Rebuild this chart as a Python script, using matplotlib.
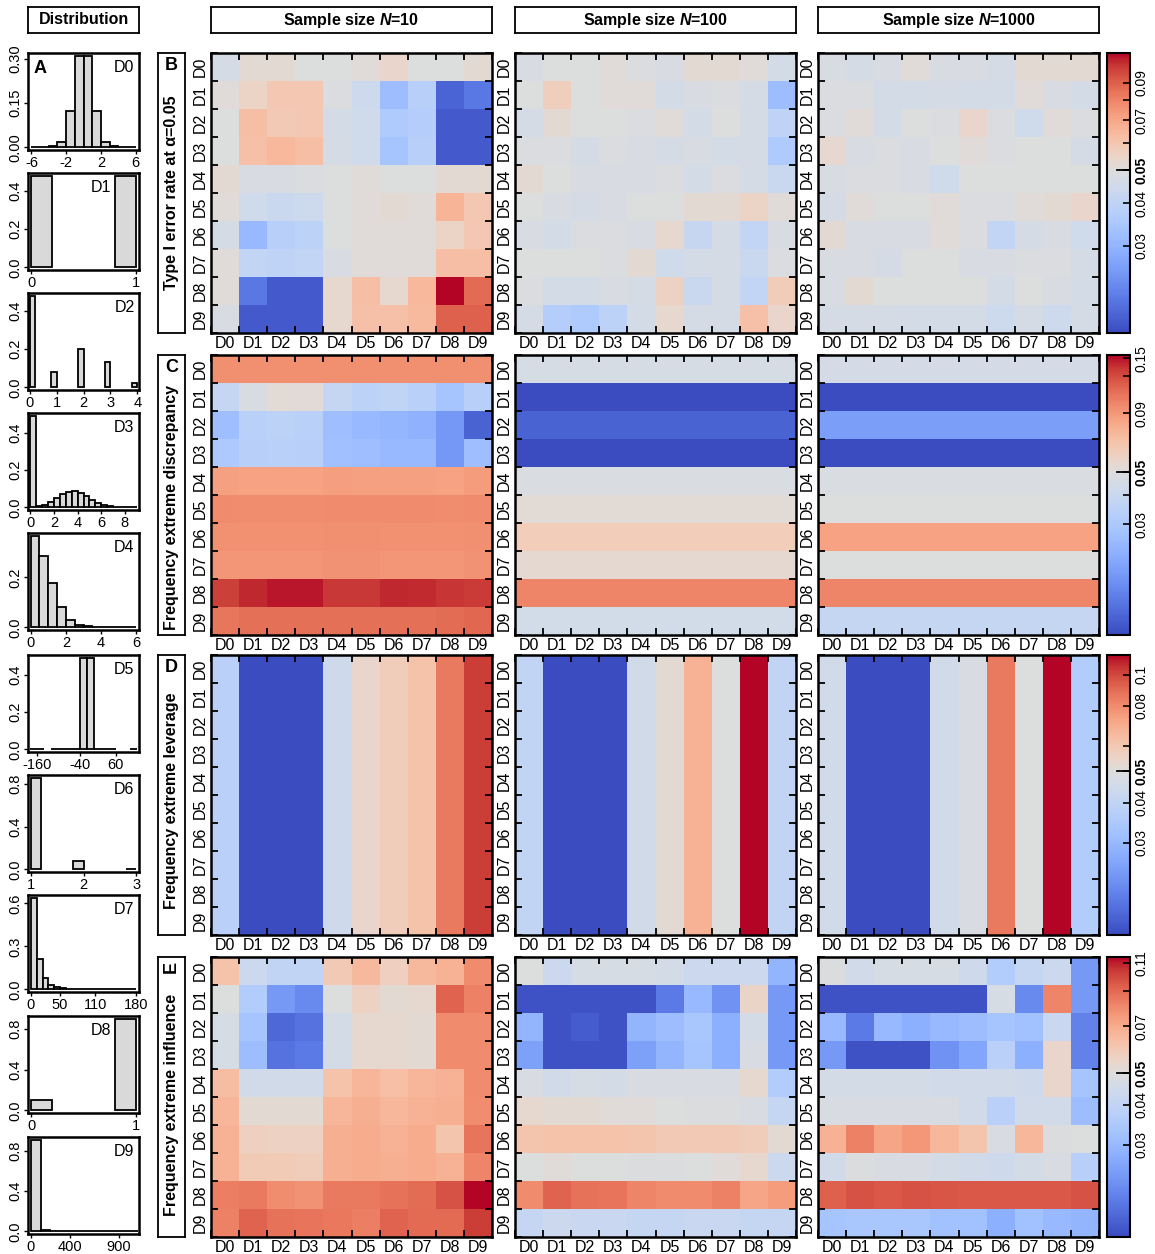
import numpy as np
import matplotlib
matplotlib.use('Agg')
import matplotlib.pyplot as plt
from matplotlib.colors import ListedColormap, LogNorm
from matplotlib.transforms import blended_transform_factory

plt.rcParams['font.family'] = ['Liberation Sans', 'DejaVu Sans']
plt.rcParams['mathtext.fontset'] = 'custom'
plt.rcParams['mathtext.it'] = 'Liberation Sans:italic:bold'
plt.rcParams['mathtext.rm'] = 'Liberation Sans:bold'
plt.rcParams['axes.unicode_minus'] = False

names = ['D0', 'D1', 'D2', 'D3', 'D4', 'D5', 'D6', 'D7', 'D8', 'D9']
sizes = ['10', '100', '1000']

# ---- distribution histograms (left edge, width, height) ----
d0_left = [-6, -5, -4, -3, -2, -1, 0, 1, 2, 3, 4, 5]
d0_h = [0, 0, 0.003, 0.017, 0.123, 0.31, 0.31, 0.123, 0.017, 0.003, 0, 0]
d1_left = [0, 0.8]
d1_h = [0.48, 0.48]
d2_left = [0, 0.8, 1.8, 2.8, 3.8]
d2_h = [0.48, 0.082, 0.2, 0.135, 0.023]
d3_left = [0, 0.5, 1, 1.5, 2, 2.5, 3, 3.5, 4, 4.5, 5, 5.5, 6, 6.5, 7, 7.5, 8, 8.5]
d3_h = [0.49, 0.005, 0.011, 0.028, 0.052, 0.072, 0.084, 0.086, 0.076, 0.058, 0.04,
        0.024, 0.012, 0.006, 0.003, 0.001, 0.001, 0.0]
d4_left = [0, 0.5, 1, 1.5, 2, 2.5, 3, 3.5, 4, 4.5, 5, 5.5]
d4_h = [0.367, 0.287, 0.176, 0.083, 0.031, 0.011, 0.004, 0.001, 0, 0, 0, 0]
d5_left = [-180, -160, -120, -100, -80, -60, -40, -20, 0, 20, 40, 100]
d5_h = [0, 0, 0, 0, 0, 0, 0.49, 0.49, 0, 0, 0, 0]
d6_left = [1, 1.8, 2.8]
d6_h = [0.86, 0.077, 0.006]
d7_left = list(range(0, 180, 10))
d7_h = [0.64, 0.21, 0.08, 0.033, 0.015, 0.007, 0.004, 0.002, 0.001,
        0.001, 0, 0, 0, 0, 0, 0, 0, 0]
d8_left = [0, 0.8]
d8_h = [0.1, 0.9]
d9_left = list(range(0, 1100, 100))
d9_h = [0.91, 0.015, 0.005, 0, 0, 0, 0, 0, 0, 0, 0]

hists = [
    (d0_left, 1, d0_h, (-6.4, 6.4), [-6, -2, 2, 6], [0, 0.15, 0.30], ['0.00', '0.15', '0.30']),
    (d1_left, 0.2, d1_h, (-0.03, 1.03), [0, 1], [0, 0.2, 0.4], ['0.0', '0.2', '0.4']),
    (d2_left, 0.2, d2_h, (-0.06, 4.06), [0, 1, 2, 3, 4], [0, 0.2, 0.4], ['0.0', '0.2', '0.4']),
    (d3_left, 0.5, d3_h, (-0.2, 9.2), [0, 2, 4, 6, 8], [0, 0.2, 0.4], ['0.0', '0.2', '0.4']),
    (d4_left, 0.5, d4_h, (-0.15, 6.15), [0, 2, 4, 6], [0, 0.2], ['0.0', '0.2']),
    (d5_left, 20, d5_h, (-186, 126), [-160, -40, 60], [0, 0.2, 0.4], ['0.0', '0.2', '0.4']),
    (d6_left, 0.2, d6_h, (0.95, 3.05), [1, 2, 3], [0, 0.4, 0.8], ['0.0', '0.4', '0.8']),
    (d7_left, 10, d7_h, (-5, 185), [0, 50, 110, 180], [0, 0.3, 0.6], ['0.0', '0.3', '0.6']),
    (d8_left, 0.2, d8_h, (-0.03, 1.03), [0, 1], [0, 0.4, 0.8], ['0.0', '0.4', '0.8']),
    (d9_left, 100, d9_h, (-30, 1110), [0, 400, 900], [0, 0.4, 0.8], ['0.0', '0.4', '0.8']),
]

# ---- heatmap values (rows = D0..D9 top to bottom, cols = D0..D9) ----
type1_n10 = [
    [0.047, 0.052, 0.052, 0.050, 0.050, 0.051, 0.054, 0.050, 0.050, 0.052],
    [0.051, 0.055, 0.060, 0.060, 0.049, 0.044, 0.032, 0.038, 0.019, 0.021],
    [0.050, 0.063, 0.059, 0.060, 0.046, 0.045, 0.036, 0.037, 0.018, 0.018],
    [0.050, 0.062, 0.065, 0.063, 0.047, 0.045, 0.034, 0.038, 0.018, 0.018],
    [0.052, 0.048, 0.048, 0.049, 0.050, 0.051, 0.050, 0.050, 0.052, 0.052],
    [0.051, 0.045, 0.043, 0.044, 0.050, 0.051, 0.052, 0.051, 0.066, 0.060],
    [0.047, 0.031, 0.038, 0.039, 0.050, 0.051, 0.051, 0.051, 0.055, 0.060],
    [0.051, 0.041, 0.040, 0.041, 0.048, 0.051, 0.051, 0.051, 0.063, 0.063],
    [0.051, 0.021, 0.018, 0.018, 0.053, 0.063, 0.053, 0.065, 0.110, 0.087],
    [0.048, 0.018, 0.018, 0.018, 0.053, 0.062, 0.062, 0.064, 0.090, 0.090],
]
type1_n100 = [
    [0.048, 0.050, 0.050, 0.051, 0.049, 0.048, 0.052, 0.052, 0.051, 0.046],
    [0.050, 0.057, 0.050, 0.051, 0.051, 0.046, 0.048, 0.049, 0.047, 0.032],
    [0.047, 0.052, 0.050, 0.050, 0.049, 0.051, 0.046, 0.050, 0.047, 0.040],
    [0.049, 0.049, 0.047, 0.049, 0.048, 0.047, 0.048, 0.046, 0.047, 0.036],
    [0.052, 0.050, 0.048, 0.048, 0.048, 0.049, 0.046, 0.049, 0.047, 0.043],
    [0.050, 0.048, 0.047, 0.048, 0.050, 0.050, 0.052, 0.052, 0.055, 0.051],
    [0.048, 0.046, 0.049, 0.049, 0.048, 0.053, 0.042, 0.047, 0.041, 0.048],
    [0.050, 0.050, 0.050, 0.049, 0.052, 0.045, 0.046, 0.047, 0.043, 0.049],
    [0.049, 0.046, 0.046, 0.048, 0.047, 0.056, 0.043, 0.047, 0.041, 0.058],
    [0.047, 0.037, 0.036, 0.039, 0.046, 0.053, 0.047, 0.047, 0.062, 0.054],
]
type1_n1000 = [
    [0.048, 0.047, 0.048, 0.051, 0.048, 0.048, 0.047, 0.052, 0.052, 0.052],
    [0.049, 0.049, 0.046, 0.046, 0.047, 0.046, 0.046, 0.051, 0.048, 0.046],
    [0.049, 0.051, 0.046, 0.050, 0.049, 0.054, 0.049, 0.045, 0.051, 0.049],
    [0.053, 0.048, 0.049, 0.048, 0.050, 0.051, 0.049, 0.050, 0.050, 0.047],
    [0.048, 0.049, 0.049, 0.048, 0.045, 0.050, 0.050, 0.050, 0.050, 0.050],
    [0.047, 0.051, 0.050, 0.050, 0.051, 0.049, 0.049, 0.051, 0.052, 0.054],
    [0.052, 0.048, 0.048, 0.048, 0.051, 0.049, 0.041, 0.047, 0.048, 0.045],
    [0.048, 0.048, 0.047, 0.050, 0.050, 0.048, 0.048, 0.049, 0.049, 0.047],
    [0.048, 0.052, 0.050, 0.050, 0.050, 0.050, 0.046, 0.050, 0.048, 0.046],
    [0.047, 0.047, 0.047, 0.046, 0.046, 0.046, 0.044, 0.047, 0.044, 0.047],
]

discr_n10 = [
    [0.095, 0.095, 0.095, 0.095, 0.095, 0.095, 0.095, 0.095, 0.095, 0.095],
    [0.038, 0.047, 0.053, 0.052, 0.038, 0.035, 0.036, 0.034, 0.028, 0.033],
    [0.026, 0.034, 0.035, 0.034, 0.026, 0.025, 0.024, 0.023, 0.018, 0.012],
    [0.030, 0.033, 0.034, 0.033, 0.027, 0.026, 0.025, 0.025, 0.018, 0.026],
    [0.086, 0.085, 0.085, 0.085, 0.087, 0.086, 0.086, 0.086, 0.085, 0.088],
    [0.097, 0.096, 0.096, 0.096, 0.097, 0.097, 0.097, 0.097, 0.096, 0.097],
    [0.094, 0.094, 0.094, 0.094, 0.095, 0.095, 0.094, 0.094, 0.094, 0.095],
    [0.092, 0.092, 0.092, 0.092, 0.093, 0.093, 0.092, 0.092, 0.092, 0.093],
    [0.135, 0.148, 0.152, 0.152, 0.140, 0.140, 0.148, 0.146, 0.142, 0.138],
    [0.108, 0.110, 0.110, 0.110, 0.110, 0.110, 0.110, 0.110, 0.112, 0.115],
]
discr_n100_rows = [0.046, 0.010, 0.012, 0.010, 0.048, 0.053, 0.062, 0.054, 0.100, 0.044]
discr_n1000_rows = [0.045, 0.010, 0.019, 0.010, 0.048, 0.050, 0.085, 0.050, 0.100, 0.038]

lever_n10_cols = [0.038, 0.0155, 0.0155, 0.0155, 0.044, 0.054, 0.058, 0.062, 0.085, 0.103]
lever_n100_cols = [0.040, 0.0155, 0.0155, 0.0155, 0.045, 0.052, 0.068, 0.050, 0.115, 0.040]
lever_n1000_cols = [0.045, 0.0155, 0.0155, 0.0155, 0.045, 0.048, 0.085, 0.050, 0.115, 0.036]

infl_n10 = [
    [0.062, 0.043, 0.040, 0.040, 0.060, 0.065, 0.057, 0.065, 0.068, 0.080],
    [0.050, 0.036, 0.024, 0.022, 0.050, 0.056, 0.052, 0.053, 0.092, 0.083],
    [0.047, 0.033, 0.018, 0.019, 0.046, 0.053, 0.053, 0.052, 0.080, 0.080],
    [0.047, 0.031, 0.019, 0.020, 0.046, 0.053, 0.053, 0.052, 0.080, 0.080],
    [0.064, 0.045, 0.045, 0.045, 0.062, 0.067, 0.063, 0.067, 0.068, 0.080],
    [0.067, 0.052, 0.052, 0.052, 0.067, 0.069, 0.066, 0.068, 0.069, 0.079],
    [0.068, 0.057, 0.056, 0.056, 0.069, 0.070, 0.068, 0.070, 0.061, 0.087],
    [0.068, 0.059, 0.059, 0.058, 0.069, 0.070, 0.069, 0.070, 0.068, 0.082],
    [0.084, 0.085, 0.079, 0.078, 0.085, 0.085, 0.088, 0.089, 0.097, 0.115],
    [0.083, 0.092, 0.088, 0.087, 0.086, 0.084, 0.092, 0.090, 0.090, 0.103],
]
infl_n100 = [
    [0.050, 0.043, 0.047, 0.047, 0.047, 0.046, 0.043, 0.043, 0.043, 0.029],
    [0.016, 0.016, 0.016, 0.016, 0.016, 0.020, 0.030, 0.023, 0.055, 0.024],
    [0.029, 0.016, 0.017, 0.016, 0.029, 0.031, 0.034, 0.028, 0.046, 0.024],
    [0.025, 0.016, 0.016, 0.016, 0.025, 0.029, 0.033, 0.028, 0.048, 0.024],
    [0.048, 0.045, 0.047, 0.046, 0.048, 0.048, 0.048, 0.048, 0.053, 0.036],
    [0.053, 0.052, 0.052, 0.051, 0.051, 0.050, 0.049, 0.049, 0.048, 0.041],
    [0.061, 0.062, 0.062, 0.062, 0.061, 0.060, 0.060, 0.060, 0.058, 0.052],
    [0.050, 0.051, 0.050, 0.050, 0.049, 0.049, 0.050, 0.051, 0.053, 0.043],
    [0.080, 0.092, 0.088, 0.087, 0.082, 0.080, 0.080, 0.083, 0.072, 0.075],
    [0.041, 0.043, 0.042, 0.042, 0.041, 0.041, 0.042, 0.042, 0.041, 0.041],
]
infl_n1000 = [
    [0.049, 0.045, 0.047, 0.047, 0.047, 0.044, 0.036, 0.041, 0.043, 0.024],
    [0.016, 0.016, 0.016, 0.016, 0.016, 0.016, 0.047, 0.022, 0.082, 0.024],
    [0.030, 0.020, 0.030, 0.028, 0.030, 0.031, 0.033, 0.032, 0.042, 0.021],
    [0.024, 0.016, 0.016, 0.016, 0.023, 0.026, 0.038, 0.028, 0.054, 0.021],
    [0.046, 0.046, 0.046, 0.046, 0.045, 0.045, 0.045, 0.044, 0.054, 0.033],
    [0.048, 0.048, 0.048, 0.048, 0.048, 0.045, 0.038, 0.045, 0.045, 0.031],
    [0.068, 0.083, 0.072, 0.076, 0.066, 0.061, 0.048, 0.066, 0.049, 0.050],
    [0.045, 0.049, 0.048, 0.048, 0.046, 0.045, 0.044, 0.046, 0.048, 0.037],
    [0.093, 0.097, 0.095, 0.097, 0.096, 0.095, 0.095, 0.095, 0.095, 0.097],
    [0.033, 0.034, 0.034, 0.034, 0.032, 0.032, 0.028, 0.032, 0.030, 0.029],
]

row_titles = ['Type I error rate at \u03b1=0.05', 'Frequency extreme discrepancy',
              'Frequency extreme leverage', 'Frequency extreme influence']
row_letters = ['B', 'C', 'D', 'E']
title_pos = [0.5, 0.455, 0.48, 0.47]
color_ranges = [(0.0167, 0.11), (0.01, 0.16), (0.0155, 0.115), (0.0155, 0.115)]
cbar_ticks = [
    ([0.03, 0.04, 0.05, 0.06, 0.07, 0.08, 0.09], ['0.03', '0.04', '0.05', '', '0.07', '', '0.09']),
    ([0.03, 0.04, 0.05, 0.09, 0.13, 0.155], ['0.03', '', '0.05', '0.09', '', '0.15']),
    ([0.03, 0.04, 0.05, 0.06, 0.08, 0.1], ['0.03', '0.04', '0.05', '', '0.08', '0.1']),
    ([0.03, 0.04, 0.05, 0.07, 0.09, 0.11], ['0.03', '0.04', '0.05', '0.07', '', '0.11']),
]

panels = [
    [type1_n10, type1_n100, type1_n1000],
    [discr_n10, np.repeat(np.array(discr_n100_rows)[:, None], 10, axis=1),
     np.repeat(np.array(discr_n1000_rows)[:, None], 10, axis=1)],
    [np.repeat(np.array(lever_n10_cols)[None, :], 10, axis=0),
     np.repeat(np.array(lever_n100_cols)[None, :], 10, axis=0),
     np.repeat(np.array(lever_n1000_cols)[None, :], 10, axis=0)],
    [infl_n10, infl_n100, infl_n1000],
]

W, H = 1155, 1254
fig = plt.figure(figsize=(W / 100, H / 100), dpi=100)


def add_box(x0, y0, x1, y1):
    return fig.add_axes([x0 / W, 1 - y1 / H, (x1 - x0) / W, (y1 - y0) / H])


def make_cmap(vmin, vmax):
    # coolwarm with the neutral grey sitting at 0.05 on a log axis
    base = plt.get_cmap('coolwarm')
    p0 = np.log(0.05 / vmin) / np.log(vmax / vmin)
    s = np.linspace(0, 1, 256)
    t = np.where(s < p0, 0.5 * s / p0, 0.5 + 0.5 * (s - p0) / (1 - p0))
    return ListedColormap(base(t))


def framed(ax, lw=1.3):
    ax.set_xticks([])
    ax.set_yticks([])
    for sp in ax.spines.values():
        sp.set_linewidth(lw)


heat_x = [(211, 492), (515, 796), (818, 1099)]
heat_y = [(53, 333), (355, 635), (655, 935), (957, 1237)]

# headers
hb = add_box(28, 7, 139, 33)
framed(hb)
hb.text(0.5, 0.5, 'Distribution', ha='center', va='center', fontsize=11.5, fontweight='bold')
for j, (x0, x1) in enumerate(heat_x):
    hb = add_box(x0, 7, x1, 33)
    framed(hb)
    hb.text(0.5, 0.5, 'Sample size $N$=' + sizes[j], ha='center', va='center',
            fontsize=11.5, fontweight='bold')

# distributions
dist_top = [53, 173, 293, 413, 533, 655, 775, 895, 1016, 1137]
for i, (lefts, w, hts, xl, xt, yt, ytl) in enumerate(hists):
    ax = add_box(28, dist_top[i], 139, dist_top[i] + 97)
    ax.bar(lefts, hts, width=w, align='edge', color='#d9d9d9', edgecolor='black', linewidth=1.3)
    top = max(hts)
    ax.set_ylim(-0.03 * top, top * 1.03)
    ax.set_xlim(*xl)
    ax.set_xticks(xt)
    ax.set_yticks(yt, ytl, rotation=90, va='center')
    ax.tick_params(length=3, width=1, labelsize=10.5, pad=1)
    for sp in ax.spines.values():
        sp.set_linewidth(1.8)
    lx = 0.75 if names[i] in ('D1', 'D8') else 0.96
    ax.text(lx, 0.93, names[i], transform=ax.transAxes, ha='right', va='top', fontsize=11.5)
    if i == 0:
        ax.text(0.05, 0.93, 'A', transform=ax.transAxes, ha='left', va='top',
                fontsize=13, fontweight='bold')

# heatmaps
edges = np.arange(11)
for r in range(4):
    y0, y1 = heat_y[r]
    vmin, vmax = color_ranges[r]
    norm = LogNorm(vmin=vmin, vmax=vmax)
    cmap = make_cmap(vmin, vmax)

    lb = add_box(158, y0, 185, y1)
    framed(lb)
    lb.text(0.5, title_pos[r], row_titles[r], rotation=90, ha='center', va='center',
            fontsize=11.5, fontweight='bold')
    lb.text(0.5, 0.985, row_letters[r], rotation=90 if r == 3 else 0, ha='center', va='top',
            fontsize=13, fontweight='bold')

    for c in range(3):
        x0, x1 = heat_x[c]
        ax = add_box(x0, y0, x1, y1)
        vals = np.clip(np.array(panels[r][c], dtype=float), vmin, vmax)
        mesh = ax.pcolormesh(edges, edges, vals, norm=norm, cmap=cmap)
        ax.set_xlim(0, 10)
        ax.set_ylim(10, 0)
        ax.set_xticks(edges)
        ax.set_yticks(edges)
        ax.tick_params(which='major', direction='in', length=5, width=1.3,
                       top=True, right=True, labelbottom=False, labelleft=False)
        ax.set_xticks(edges[:-1] + 0.5, names, minor=True)
        ax.set_yticks(edges[:-1] + 0.5, names, minor=True, rotation=90, va='center')
        ax.tick_params(which='minor', length=0, labelsize=11.5, pad=2)
        for sp in ax.spines.values():
            sp.set_linewidth(1.8)

    cax = add_box(1107, y0, 1130, y1)
    cb = fig.colorbar(mesh, cax=cax)
    cb.outline.set_linewidth(1.5)
    ticks, tl = cbar_ticks[r]
    cax.set_yticks(ticks, tl, rotation=90, va='center')
    cax.minorticks_off()
    cax.tick_params(direction='in', length=5, width=1.2, labelsize=10, pad=3)
    for t in cax.get_yticklabels():
        if t.get_text() == '0.05':
            t.set_fontweight('bold')
    tr = blended_transform_factory(cax.transAxes, cax.transData)
    cax.plot([0.45, 1.0], [0.05, 0.05], color='black', lw=1.3, transform=tr, clip_on=False)

fig.savefig('out.png', dpi=100)
